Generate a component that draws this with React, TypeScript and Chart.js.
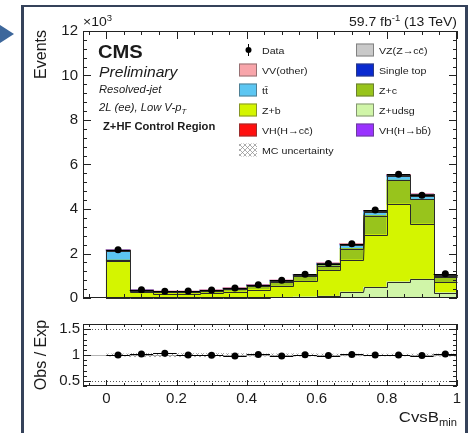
import React, { useEffect, useRef } from 'react';
import { Chart, registerables } from 'chart.js';

Chart.register(...registerables);

const FONT = '"Liberation Sans", Arial, Helvetica, sans-serif';
const TEXT = '#1b1b1b';
const SX = 1.12;

// ---------- data (events in units of 10^3) ----------
const binCenters = [0.03333, 0.1, 0.16667, 0.23333, 0.3, 0.36667, 0.43333, 0.5, 0.56667, 0.63333, 0.7, 0.76667, 0.83333, 0.9, 0.96667];
const binHalfWidth = 0.03333;
const xMin = -0.06667;
const xMax = 1;
const xTickValues = [0, 0.2, 0.4, 0.6, 0.8, 1];
const yMainTickValues = [0, 2, 4, 6, 8, 10, 12];
const yRatioTickValues = [0.5, 1, 1.5];

const zudsg = [0.01, 0.01, 0.01, 0.01, 0.01, 0.01, 0.02, 0.03, 0.05, 0.08, 0.27, 0.48, 0.73, 0.84, 0.24];
const zb = [1.66, 0.24, 0.19, 0.18, 0.21, 0.27, 0.36, 0.5, 0.7, 1.16, 1.44, 2.36, 3.49, 2.49, 0.46];
const zc = [0.03, 0.05, 0.05, 0.06, 0.08, 0.11, 0.14, 0.18, 0.22, 0.21, 0.51, 0.86, 1.07, 1.1, 0.24];
const ttbar = [0.42, 0.04, 0.03, 0.03, 0.03, 0.03, 0.04, 0.05, 0.05, 0.07, 0.16, 0.15, 0.18, 0.17, 0.07];
const singleTop = [0.03, 0.01, 0.01, 0.01, 0.01, 0.01, 0.01, 0.015, 0.015, 0.015, 0.02, 0.02, 0.02, 0.02, 0.01];
const vvOther = [0.01, 0.005, 0.005, 0.005, 0.005, 0.01, 0.01, 0.01, 0.01, 0.015, 0.02, 0.02, 0.02, 0.02, 0.01];
const vzcc = [0.005, 0.003, 0.003, 0.003, 0.003, 0.005, 0.005, 0.007, 0.008, 0.01, 0.015, 0.02, 0.02, 0.02, 0.01];
const vhcc = [0.001, 0, 0, 0, 0, 0, 0, 0.001, 0.001, 0.001, 0.002, 0.002, 0.003, 0.003, 0.001];
const vhbb = [0.002, 0.001, 0, 0, 0, 0, 0, 0, 0, 0, 0.001, 0.001, 0.001, 0.001, 0];

const dataValues = [2.17, 0.37, 0.3, 0.31, 0.36, 0.45, 0.6, 0.8, 1.07, 1.55, 2.44, 3.95, 5.56, 4.62, 1.09];
const dataErrors = [0.047, 0.019, 0.017, 0.018, 0.019, 0.021, 0.024, 0.028, 0.033, 0.039, 0.049, 0.063, 0.075, 0.068, 0.033];
const ratioValues = [1.0, 1.017, 1.034, 1.0, 0.994, 0.983, 1.011, 0.983, 1.006, 0.989, 1.011, 1.0, 1.0, 0.989, 1.017];
const ratioErrors = [0.022, 0.052, 0.057, 0.057, 0.053, 0.047, 0.041, 0.035, 0.031, 0.025, 0.02, 0.016, 0.014, 0.015, 0.03];
const mcUncRatio = [0.02, 0.03, 0.03, 0.03, 0.03, 0.025, 0.02, 0.02, 0.02, 0.015, 0.015, 0.015, 0.015, 0.015, 0.02];

// stack order, bottom to top
const stackLayers = [
  { label: 'Z+udsg', values: zudsg, color: '#d0f5a8' },
  { label: 'Z+b', values: zb, color: '#d4f500' },
  { label: 'Z+c', values: zc, color: '#98c41c' },
  { label: 'tt\u0304', values: ttbar, color: '#5cc6f2' },
  { label: 'Single top', values: singleTop, color: '#0a2ad0' },
  { label: 'VV(other)', values: vvOther, color: '#f8a5aa' },
  { label: 'VZ(Z\u2192cc\u0304)', values: vzcc, color: '#c9c9c9' },
  { label: 'VH(H\u2192cc\u0304)', values: vhcc, color: '#ff1010' },
  { label: 'VH(H\u2192bb\u0304)', values: vhbb, color: '#9a33ff' },
];

const legendColumnLeft = ['Data', 'VV(other)', 'tt\u0304', 'Z+b', 'VH(H\u2192cc\u0304)', 'MC uncertainty'];
const legendColumnRight = ['VZ(Z\u2192cc\u0304)', 'Single top', 'Z+c', 'Z+udsg', 'VH(H\u2192bb\u0304)'];

// ---------- helpers ----------
function makeHatch(ctx: CanvasRenderingContext2D, color: string) {
  const c = document.createElement('canvas');
  c.width = 5;
  c.height = 5;
  const g = c.getContext('2d')!;
  g.strokeStyle = color;
  g.lineWidth = 0.7;
  g.beginPath();
  g.moveTo(0, 0);
  g.lineTo(5, 5);
  g.moveTo(5, 0);
  g.lineTo(0, 5);
  g.stroke();
  return ctx.createPattern(c, 'repeat')!;
}

function drawText(
  ctx: CanvasRenderingContext2D,
  s: string,
  x: number,
  y: number,
  size: number,
  o: { weight?: string; style?: string; align?: CanvasTextAlign; sx?: number; rotate?: boolean } = {}
) {
  ctx.save();
  ctx.font = `${o.style || 'normal'} ${o.weight || 'normal'} ${size}px ${FONT}`;
  ctx.fillStyle = TEXT;
  ctx.textAlign = o.align || 'left';
  ctx.textBaseline = 'alphabetic';
  ctx.translate(x, y);
  if (o.rotate) ctx.rotate(-Math.PI / 2);
  ctx.scale(o.sx ?? SX, 1);
  ctx.fillText(s, 0, 0);
  const w = ctx.measureText(s).width * (o.sx ?? SX);
  ctx.restore();
  return w;
}

function measure(ctx: CanvasRenderingContext2D, s: string, size: number, weight = 'normal', style = 'normal', sx = SX) {
  ctx.save();
  ctx.font = `${style} ${weight} ${size}px ${FONT}`;
  const w = ctx.measureText(s).width * sx;
  ctx.restore();
  return w;
}

function drawFrameAndTicks(
  chart: any,
  o: { xMaj: number; xMin: number; yMaj: number; yMin: number; yMinorStep: number; yLo: number; yHi: number; yMajors: number[] }
) {
  const ctx: CanvasRenderingContext2D = chart.ctx;
  const { left, right, top, bottom } = chart.chartArea;
  const xs = chart.scales.x;
  const ys = chart.scales.y;
  ctx.save();
  ctx.strokeStyle = '#222';
  ctx.lineWidth = 1;
  ctx.strokeRect(left + 0.5, top + 0.5, right - left - 1, bottom - top - 1);
  ctx.beginPath();
  for (let v = -0.05; v <= 1.0001; v += 0.05) {
    const px = Math.round(xs.getPixelForValue(v)) + 0.5;
    const isMaj = xTickValues.some((t) => Math.abs(t - v) < 1e-6);
    const L = isMaj ? o.xMaj : o.xMin;
    ctx.moveTo(px, bottom);
    ctx.lineTo(px, bottom - L);
    ctx.moveTo(px, top);
    ctx.lineTo(px, top + L);
  }
  for (let v = o.yLo; v <= o.yHi + 1e-6; v += o.yMinorStep) {
    const py = Math.round(ys.getPixelForValue(v)) + 0.5;
    const isMaj = o.yMajors.some((t) => Math.abs(t - v) < 1e-6);
    const L = isMaj ? o.yMaj : o.yMin;
    ctx.moveTo(left, py);
    ctx.lineTo(left + L, py);
    ctx.moveTo(right, py);
    ctx.lineTo(right - L, py);
  }
  ctx.stroke();
  ctx.restore();
}

function drawErrorBars(chart: any, values: number[], errors: number[]) {
  const ctx: CanvasRenderingContext2D = chart.ctx;
  const xs = chart.scales.x;
  const ys = chart.scales.y;
  ctx.save();
  ctx.strokeStyle = '#000';
  ctx.lineWidth = 1;
  ctx.beginPath();
  binCenters.forEach((c, i) => {
    const px = xs.getPixelForValue(c);
    const py = Math.round(ys.getPixelForValue(values[i])) + 0.5;
    ctx.moveTo(xs.getPixelForValue(c - binHalfWidth), py);
    ctx.lineTo(xs.getPixelForValue(c + binHalfWidth), py);
    const pxr = Math.round(px) + 0.5;
    ctx.moveTo(pxr, ys.getPixelForValue(values[i] - errors[i]));
    ctx.lineTo(pxr, ys.getPixelForValue(values[i] + errors[i]));
  });
  ctx.stroke();
  ctx.restore();
}

// step outlines of each cumulative stacked layer (ROOT-like histogram outline)
function drawStackOutlines(chart: any) {
  const ctx: CanvasRenderingContext2D = chart.ctx;
  const xs = chart.scales.x;
  const ys = chart.scales.y;
  const cum = binCenters.map(() => 0);
  ctx.save();
  ctx.strokeStyle = '#2b2b2b';
  ctx.lineWidth = 1;
  stackLayers.forEach((layer) => {
    layer.values.forEach((v, i) => (cum[i] += v));
    ctx.beginPath();
    let prevY = Math.round(ys.getPixelForValue(0)) + 0.5;
    binCenters.forEach((c, i) => {
      const xl = Math.round(xs.getPixelForValue(c - binHalfWidth)) + 0.5;
      const xr = Math.round(xs.getPixelForValue(c + binHalfWidth)) + 0.5;
      const py = Math.round(ys.getPixelForValue(cum[i])) + 0.5;
      if (i === 0) ctx.moveTo(xl, prevY);
      ctx.lineTo(xl, py);
      ctx.lineTo(xr, py);
      prevY = py;
    });
    ctx.stroke();
  });
  ctx.restore();
}

export default function App() {
  const mainRef = useRef<HTMLCanvasElement>(null);
  const ratioRef = useRef<HTMLCanvasElement>(null);

  useEffect(() => {
    const mainCanvas = mainRef.current!;
    const ratioCanvas = ratioRef.current!;
    const mctx = mainCanvas.getContext('2d')!;
    const rctx = ratioCanvas.getContext('2d')!;
    const hatchMain = makeHatch(mctx, '#8a8a8a');
    const hatchRatio = makeHatch(rctx, '#8a8a8a');

    const layerColor = (label: string) => stackLayers.find((l) => l.label === label)?.color || '#ccc';

    const mainDecor = {
      id: 'mainDecor',
      beforeDatasetDraw(chart: any, args: any) {
        if (args.meta.type === 'scatter') {
          drawStackOutlines(chart);
          drawErrorBars(chart, dataValues, dataErrors);
        }
      },
      afterDraw(chart: any) {
        const ctx: CanvasRenderingContext2D = chart.ctx;
        const a = chart.chartArea;
        drawFrameAndTicks(chart, { xMaj: 8, xMin: 4, yMaj: 8, yMin: 4, yMinorStep: 0.4, yLo: 0, yHi: 12, yMajors: yMainTickValues });

        // header: luminosity
        const s1 = '59.7 fb';
        const s2 = '-1';
        const s3 = ' (13 TeV)';
        const w1 = measure(ctx, s1, 12.5);
        const w2 = measure(ctx, s2, 8.5);
        const w3 = measure(ctx, s3, 12.5);
        let hx = a.right - (w1 + w2 + w3);
        drawText(ctx, s1, hx, 26, 12.5);
        hx += w1;
        drawText(ctx, s2, hx, 21, 8.5);
        hx += w2;
        drawText(ctx, s3, hx, 26, 12.5);

        // x10^3
        const wx = drawText(ctx, '\u00d710', a.left, 26, 12.5);
        drawText(ctx, '3', a.left + wx, 21, 8.5);

        // y title
        drawText(ctx, 'Events', 46, 30, 16, { align: 'right', rotate: true, sx: 1 });

        // CMS labels
        drawText(ctx, 'CMS', 98, 58, 18, { weight: 'bold' });
        drawText(ctx, 'Preliminary', 99, 76.5, 14, { style: 'italic' });
        drawText(ctx, 'Resolved-jet', 99, 93, 10, { style: 'italic' });
        const wl = drawText(ctx, '2L (ee), Low V-p', 99, 111, 10, { style: 'italic' });
        drawText(ctx, 'T', 99 + wl, 114, 7, { style: 'italic' });
        drawText(ctx, 'Z+HF Control Region', 103, 130, 10, { weight: 'bold' });

        // legend
        const rowY = [50, 70, 90, 110, 130, 150];
        const drawEntry = (label: string, bx: number, cy: number) => {
          ctx.save();
          if (label === 'Data') {
            ctx.fillStyle = '#000';
            ctx.strokeStyle = '#000';
            ctx.lineWidth = 1;
            ctx.beginPath();
            ctx.moveTo(bx + 9.5, cy - 6);
            ctx.lineTo(bx + 9.5, cy + 6);
            ctx.stroke();
            ctx.beginPath();
            ctx.arc(bx + 9.5, cy, 3, 0, Math.PI * 2);
            ctx.fill();
          } else if (label === 'MC uncertainty') {
            ctx.fillStyle = hatchMain;
            ctx.fillRect(bx, cy - 6.5, 18, 13);
          } else {
            ctx.fillStyle = layerColor(label);
            ctx.fillRect(bx, cy - 6.5, 18, 13);
            ctx.strokeStyle = 'rgba(70,70,70,0.55)';
            ctx.lineWidth = 1;
            ctx.strokeRect(bx + 0.5, cy - 6, 17, 12);
          }
          ctx.restore();
          drawText(ctx, label, bx + 23, cy + 3.5, 9.5);
        };
        legendColumnLeft.forEach((l, i) => drawEntry(l, 239, rowY[i]));
        legendColumnRight.forEach((l, i) => drawEntry(l, 356, rowY[i]));
      },
    };

    const ratioDecor = {
      id: 'ratioDecor',
      beforeDatasetsDraw(chart: any) {
        const ctx: CanvasRenderingContext2D = chart.ctx;
        const a = chart.chartArea;
        const ys = chart.scales.y;
        ctx.save();
        ctx.strokeStyle = '#b4b4b4';
        ctx.lineWidth = 1;
        const p1 = Math.round(ys.getPixelForValue(1)) + 0.5;
        ctx.beginPath();
        ctx.moveTo(a.left, p1);
        ctx.lineTo(a.right, p1);
        ctx.stroke();
        ctx.strokeStyle = '#555';
        ctx.setLineDash([1, 2]);
        [0.5, 1.5].forEach((v) => {
          const p = Math.round(ys.getPixelForValue(v)) + 0.5;
          ctx.beginPath();
          ctx.moveTo(a.left, p);
          ctx.lineTo(a.right, p);
          ctx.stroke();
        });
        ctx.restore();
      },
      beforeDatasetDraw(chart: any, args: any) {
        if (args.meta.type === 'scatter') drawErrorBars(chart, ratioValues, ratioErrors);
      },
      afterDraw(chart: any) {
        const ctx: CanvasRenderingContext2D = chart.ctx;
        const a = chart.chartArea;
        drawFrameAndTicks(chart, { xMaj: 6, xMin: 3, yMaj: 8, yMin: 4, yMinorStep: 0.1, yLo: 0.4, yHi: 1.6, yMajors: yRatioTickValues });
        drawText(ctx, 'Obs / Exp', 46, (a.top + a.bottom) / 2, 16, { align: 'center', rotate: true, sx: 1 });
        const wm = measure(ctx, 'min', 10);
        const wc = measure(ctx, 'CvsB', 15);
        const x0 = a.right - wm - wc;
        drawText(ctx, 'CvsB', x0, 109.5, 15);
        drawText(ctx, 'min', x0 + wc, 114, 10);
      },
    };

    const tickFont = { family: FONT, size: 15 };

    const main = new Chart(mainCanvas, {
      type: 'bar',
      data: {
        datasets: [
          ...stackLayers.map((l) => ({
            type: 'bar' as const,
            label: l.label,
            data: binCenters.map((x, i) => ({ x, y: l.values[i] })),
            backgroundColor: l.color,
            borderWidth: 0,
            inflateAmount: 0.5,
            stack: 'mc',
            categoryPercentage: 1,
            barPercentage: 1,
            order: 1,
          })),
          {
            type: 'scatter' as const,
            label: 'Data',
            data: binCenters.map((x, i) => ({ x, y: dataValues[i] })),
            stack: 'data',
            pointRadius: 3.5,
            pointBackgroundColor: '#000',
            pointBorderColor: '#000',
            pointBorderWidth: 0,
            order: 0,
          },
        ] as any,
      },
      options: {
        animation: false,
        responsive: false,
        maintainAspectRatio: false,
        layout: { padding: { left: 0, right: 15, top: 31, bottom: 4 } },
        plugins: { legend: { display: false }, tooltip: { enabled: false } },
        scales: {
          x: {
            type: 'linear',
            min: xMin,
            max: xMax,
            offset: false,
            stacked: true,
            display: false,
            afterBuildTicks: (s: any) => {
              s.ticks = xTickValues.map((v) => ({ value: v }));
            },
          },
          y: {
            type: 'linear',
            min: 0,
            max: 12,
            stacked: true,
            afterBuildTicks: (s: any) => {
              s.ticks = yMainTickValues.map((v) => ({ value: v }));
            },
            ticks: { font: tickFont, color: TEXT, padding: 5, callback: (v: any) => String(v) },
            grid: { display: false, drawTicks: false },
            border: { display: false },
            afterFit: (s: any) => {
              s.width = 83;
            },
          },
        },
      } as any,
      plugins: [mainDecor],
    });

    const ratio = new Chart(ratioCanvas, {
      type: 'bar',
      data: {
        datasets: [
          {
            type: 'bar' as const,
            label: 'MC uncertainty',
            data: binCenters.map((x, i) => ({ x, y: [1 - mcUncRatio[i], 1 + mcUncRatio[i]] })),
            backgroundColor: hatchRatio,
            borderWidth: 0,
            inflateAmount: 0.5,
            categoryPercentage: 1,
            barPercentage: 1,
            order: 2,
          },
          {
            type: 'scatter' as const,
            label: 'Obs / Exp',
            data: binCenters.map((x, i) => ({ x, y: ratioValues[i] })),
            pointRadius: 3.5,
            pointBackgroundColor: '#000',
            pointBorderColor: '#000',
            pointBorderWidth: 0,
            order: 0,
          },
        ] as any,
      },
      options: {
        animation: false,
        responsive: false,
        maintainAspectRatio: false,
        layout: { padding: { left: 0, right: 15, top: 5, bottom: 0 } },
        plugins: { legend: { display: false }, tooltip: { enabled: false } },
        scales: {
          x: {
            type: 'linear',
            min: xMin,
            max: xMax,
            offset: false,
            afterBuildTicks: (s: any) => {
              s.ticks = xTickValues.map((v) => ({ value: v }));
            },
            ticks: { font: tickFont, color: TEXT, padding: 4, maxRotation: 0, autoSkip: false, callback: (v: any) => String(v) },
            grid: { display: false, drawTicks: false },
            border: { display: false },
            afterFit: (s: any) => {
              s.height = 47;
            },
          },
          y: {
            type: 'linear',
            min: 0.4,
            max: 1.6,
            afterBuildTicks: (s: any) => {
              s.ticks = yRatioTickValues.map((v) => ({ value: v }));
            },
            ticks: { font: tickFont, color: TEXT, padding: 3, callback: (v: any) => String(v) },
            grid: { display: false, drawTicks: false },
            border: { display: false },
            afterFit: (s: any) => {
              s.width = 83;
            },
          },
        },
      } as any,
      plugins: [ratioDecor],
    });

    return () => {
      main.destroy();
      ratio.destroy();
    };
  }, []);

  return (
    <div style={{ position: 'fixed', left: 0, top: 0, width: 472, height: 433, overflow: 'hidden', background: '#fff' }}>
      <div
        style={{
          position: 'absolute',
          left: 0,
          top: 25,
          width: 0,
          height: 0,
          borderTop: '9px solid transparent',
          borderBottom: '9px solid transparent',
          borderLeft: '14px solid #3d679b',
        }}
      />
      <div
        style={{
          position: 'absolute',
          left: 21,
          top: 5,
          width: 447,
          height: 440,
          border: '3px solid #35425a',
          borderTopWidth: 2,
          boxSizing: 'border-box',
          background: '#fff',
        }}
      />
      <canvas ref={mainRef} width={472} height={312} style={{ position: 'absolute', left: 0, top: 0, width: 472, height: 312 }} />
      <canvas ref={ratioRef} width={472} height={121} style={{ position: 'absolute', left: 0, top: 312, width: 472, height: 121 }} />
    </div>
  );
}
